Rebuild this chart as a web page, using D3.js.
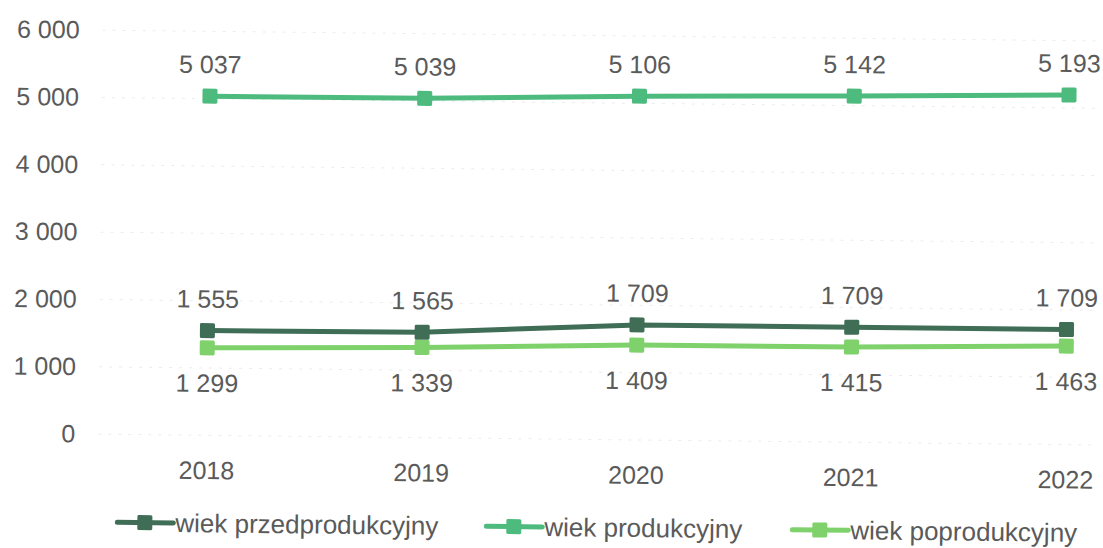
<!DOCTYPE html>
<html><head><meta charset="utf-8">
<script src="https://cdn.jsdelivr.net/npm/d3@7"></script>
<style>body{margin:0;background:#fff}svg{display:block}text{font-family:"Liberation Sans",Arial,sans-serif;fill:#5a5a5a}</style>
</head><body><svg id="c" width="1103" height="548"></svg>
<script>
const years = ["2018","2019","2020","2021","2022"];
const przedprodukcyjny = [1555, 1565, 1709, 1709, 1709];
const produkcyjny = [5037, 5039, 5106, 5142, 5193];
const poprodukcyjny = [1299, 1339, 1409, 1415, 1463];
const yTicks = [0, 1000, 2000, 3000, 4000, 5000, 6000];
const seriesNames = ["wiek przedprodukcyjny", "wiek produkcyjny", "wiek poprodukcyjny"];
const colors = ["#3f6d56", "#4dba7e", "#7fd16b"];

const series = [
  {name: seriesNames[0], values: przedprodukcyjny, color: colors[0], pos: "above"},
  {name: seriesNames[1], values: produkcyjny, color: colors[1], pos: "above"},
  {name: seriesNames[2], values: poprodukcyjny, color: colors[2], pos: "below"}
];

const FONT = '"Liberation Sans",Arial,sans-serif';
const FS = 25;
const svg = d3.select("#c");
// the scanned original is tilted slightly clockwise
const root = svg.append("g").attr("transform", "rotate(0.62,640,280)");
const x = d3.scalePoint().domain(years).range([208, 1067]);
const y = d3.scaleLinear().domain([0, 6000]).range([440, 36]);
const fmt = v => d3.format(",")(v).replace(/,/g, " ");

// gridlines
root.append("g").selectAll("line").data(yTicks).join("line")
  .attr("x1", 100).attr("x2", 1100)
  .attr("y1", d => y(d)).attr("y2", d => y(d))
  .attr("stroke", "#ececec").attr("stroke-width", 1).attr("stroke-dasharray", "3,7");

// y axis labels
const yAxis = d3.axisLeft(y).tickValues(yTicks).tickFormat(fmt).tickSize(0).tickPadding(0);
const ga = root.append("g").attr("transform", "translate(77,0)").call(yAxis);
ga.select(".domain").remove();
ga.selectAll("text").attr("font-size", FS).attr("fill", "#5a5a5a").style("font-family", FONT);

// x axis labels
const xAxis = d3.axisBottom(x).tickSize(0).tickPadding(0);
const gx = root.append("g").attr("transform", "translate(0,466)").call(xAxis);
gx.select(".domain").remove();
gx.selectAll("text").attr("font-size", FS).attr("fill", "#5a5a5a").style("font-family", FONT);

const line = d3.line().x((d, i) => x(years[i])).y(d => y(d));
const M = 15;

series.forEach(s => {
  const g = root.append("g");
  g.append("path").attr("d", line(s.values)).attr("fill", "none")
    .attr("stroke", s.color).attr("stroke-width", 5);
  g.selectAll("rect").data(s.values).join("rect")
    .attr("x", (d, i) => x(years[i]) - M / 2).attr("y", d => y(d) - M / 2)
    .attr("width", M).attr("height", M).attr("rx", 1.5).attr("fill", s.color);
  g.selectAll("text").data(s.values).join("text")
    .attr("x", (d, i) => x(years[i]))
    .attr("y", d => s.pos === "above" ? y(d) - 23 : y(d) + 44)
    .attr("text-anchor", "middle").attr("font-size", FS).text(fmt);
});

// legend
const legendX = [118, 487, 793];
series.forEach((s, i) => {
  const g = root.append("g").attr("transform", `translate(${legendX[i]},528)`);
  g.append("line").attr("x1", 2).attr("x2", 58).attr("y1", 0).attr("y2", 0)
    .attr("stroke", s.color).attr("stroke-width", 5).attr("stroke-linecap", "round");
  g.append("rect").attr("x", 22).attr("y", -M / 2).attr("width", M).attr("height", M)
    .attr("rx", 1.5).attr("fill", s.color);
  g.append("text").attr("x", 60).attr("y", 9).attr("font-size", 26).text(s.name);
});
</script>
</body></html>
